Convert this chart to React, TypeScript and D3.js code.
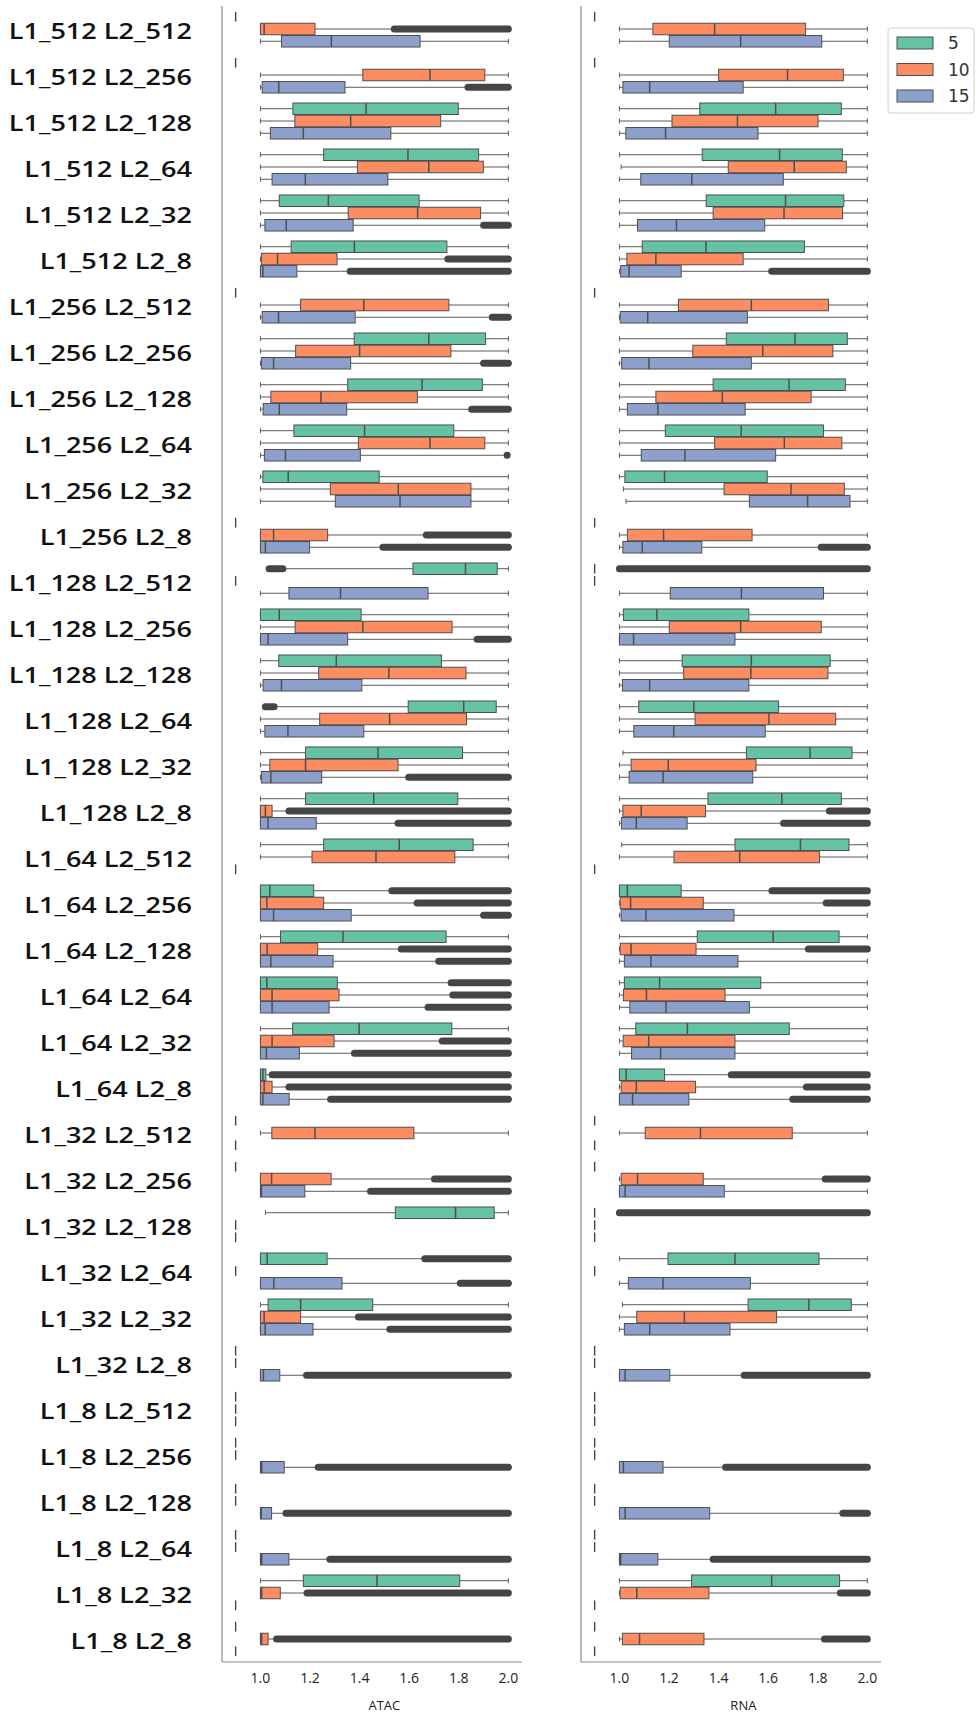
import React from 'react';
import * as d3 from 'd3';

// [whisker low, q1, median, q3, whisker high]; null = group with no spread
type Box = [number, number, number, number, number] | null;
// [row index, hue index, from, to]
type Flier = [number, number, number, number];

const rowLabels = [
  'L1_512 L2_512', 'L1_512 L2_256', 'L1_512 L2_128', 'L1_512 L2_64', 'L1_512 L2_32', 'L1_512 L2_8',
  'L1_256 L2_512', 'L1_256 L2_256', 'L1_256 L2_128', 'L1_256 L2_64', 'L1_256 L2_32', 'L1_256 L2_8',
  'L1_128 L2_512', 'L1_128 L2_256', 'L1_128 L2_128', 'L1_128 L2_64', 'L1_128 L2_32', 'L1_128 L2_8',
  'L1_64 L2_512', 'L1_64 L2_256', 'L1_64 L2_128', 'L1_64 L2_64', 'L1_64 L2_32', 'L1_64 L2_8',
  'L1_32 L2_512', 'L1_32 L2_256', 'L1_32 L2_128', 'L1_32 L2_64', 'L1_32 L2_32', 'L1_32 L2_8',
  'L1_8 L2_512', 'L1_8 L2_256', 'L1_8 L2_128', 'L1_8 L2_64', 'L1_8 L2_32', 'L1_8 L2_8',
];
const hueLevels = ['5', '10', '15'];
const hueColors = ['#66c2a5', '#fc8d62', '#8da0cb'];
const xTicks = [1.0, 1.2, 1.4, 1.6, 1.8, 2.0];
const emptyValue = 0.9;

const atacBoxes: Box[][] = [
  [null, [1.0, 1.0, 1.015, 1.22, 1.54], [1.0, 1.085, 1.286, 1.644, 2.0]],
  [null, [1.0, 1.413, 1.684, 1.905, 2.0], [1.0, 1.007, 1.074, 1.341, 1.837]],
  [[1.0, 1.131, 1.426, 1.798, 2.0], [1.0, 1.139, 1.364, 1.727, 2.0], [1.0, 1.04, 1.173, 1.526, 2.0]],
  [[1.0, 1.255, 1.595, 1.88, 2.0], [1.0, 1.391, 1.679, 1.899, 2.0], [1.0, 1.047, 1.181, 1.514, 2.0]],
  [[1.0, 1.076, 1.274, 1.64, 2.0], [1.0, 1.354, 1.634, 1.888, 2.0], [1.0, 1.018, 1.104, 1.374, 1.9]],
  [[1.0, 1.124, 1.379, 1.752, 2.0], [1.0, 1.004, 1.069, 1.309, 1.756], [1.0, 1.0, 1.01, 1.147, 1.362]],
  [null, [1.0, 1.162, 1.417, 1.76, 2.0], [1.0, 1.007, 1.073, 1.382, 1.935]],
  [[1.0, 1.378, 1.679, 1.908, 2.0], [1.0, 1.142, 1.4, 1.768, 2.0], [1.0, 1.004, 1.053, 1.364, 1.9]],
  [[1.0, 1.352, 1.652, 1.895, 2.0], [1.0, 1.042, 1.244, 1.633, 2.0], [1.0, 1.011, 1.076, 1.348, 1.852]],
  [[1.0, 1.135, 1.42, 1.78, 2.0], [1.0, 1.395, 1.684, 1.905, 2.0], [1.0, 1.016, 1.101, 1.403, 1.99]],
  [[1.0, 1.01, 1.112, 1.479, 2.0], [1.0, 1.282, 1.556, 1.849, 2.0], [1.0, 1.302, 1.563, 1.849, 2.0]],
  [null, [1.0, 1.0, 1.053, 1.271, 1.669], [1.0, 1.0, 1.02, 1.198, 1.494]],
  [[1.1, 1.615, 1.827, 1.955, 2.0], null, [1.0, 1.115, 1.323, 1.676, 2.0]],
  [[1.0, 1.0, 1.076, 1.406, 2.0], [1.0, 1.14, 1.413, 1.773, 2.0], [1.0, 1.0, 1.031, 1.352, 1.874]],
  [[1.0, 1.074, 1.306, 1.73, 2.0], [1.0, 1.235, 1.518, 1.829, 2.0], [1.0, 1.011, 1.085, 1.409, 2.0]],
  [[1.065, 1.596, 1.82, 1.951, 2.0], [1.0, 1.239, 1.521, 1.831, 2.0], [1.0, 1.018, 1.111, 1.417, 2.0]],
  [[1.0, 1.182, 1.474, 1.815, 2.0], [1.0, 1.038, 1.182, 1.555, 2.0], [1.0, 1.004, 1.042, 1.247, 1.598]],
  [[1.0, 1.182, 1.457, 1.796, 2.0], [1.0, 1.0, 1.02, 1.047, 1.115], [1.0, 1.0, 1.031, 1.225, 1.555]],
  [[1.0, 1.255, 1.56, 1.858, 2.0], [1.0, 1.208, 1.466, 1.784, 2.0], null],
  [[1.0, 1.0, 1.038, 1.215, 1.53], [1.0, 1.0, 1.026, 1.255, 1.632], [1.0, 1.0, 1.053, 1.366, 1.9]],
  [[1.0, 1.081, 1.333, 1.749, 2.0], [1.0, 1.0, 1.027, 1.231, 1.568], [1.0, 1.0, 1.042, 1.293, 1.719]],
  [[1.0, 1.0, 1.026, 1.31, 1.769], [1.0, 1.0, 1.047, 1.317, 1.776], [1.0, 1.0, 1.047, 1.277, 1.676]],
  [[1.0, 1.13, 1.398, 1.772, 2.0], [1.0, 1.0, 1.047, 1.297, 1.733], [1.0, 1.0, 1.024, 1.157, 1.379]],
  [[1.0, 1.0, 1.01, 1.022, 1.047], [1.0, 1.0, 1.015, 1.047, 1.115], [1.0, 1.0, 1.01, 1.116, 1.283]],
  [null, [1.0, 1.046, 1.22, 1.619, 2.0], null],
  [null, [1.0, 1.0, 1.045, 1.285, 1.702], [1.0, 1.0, 1.004, 1.179, 1.444]],
  [[1.02, 1.544, 1.787, 1.943, 2.0], null, null],
  [[1.0, 1.0, 1.027, 1.269, 1.663], null, [1.0, 1.0, 1.054, 1.329, 1.806]],
  [[1.0, 1.031, 1.162, 1.453, 2.0], [1.0, 1.0, 1.015, 1.162, 1.395], [1.0, 1.0, 1.019, 1.212, 1.522]],
  [null, null, [1.0, 1.0, 1.012, 1.078, 1.186]],
  [null, null, null],
  [null, null, [1.0, 1.0, 1.005, 1.096, 1.233]],
  [null, null, [1.0, 1.0, 1.003, 1.045, 1.103]],
  [null, null, [1.0, 1.0, 1.005, 1.115, 1.28]],
  [[1.0, 1.173, 1.47, 1.804, 2.0], [1.0, 1.0, 1.005, 1.08, 1.188], null],
  [null, [1.0, 1.0, 1.005, 1.031, 1.065], null],
];

const atacFliers: Flier[] = [
  [0, 1, 1.54, 2.0], [1, 2, 1.837, 2.0], [4, 2, 1.9, 2.0], [5, 1, 1.756, 2.0], [5, 2, 1.362, 2.0],
  [6, 2, 1.935, 2.0], [7, 2, 1.9, 2.0], [8, 2, 1.852, 2.0], [9, 2, 1.995, 1.995], [11, 1, 1.669, 2.0],
  [11, 2, 1.494, 2.0], [12, 0, 1.035, 1.09], [13, 2, 1.874, 2.0], [15, 0, 1.02, 1.055], [16, 2, 1.598, 2.0],
  [17, 1, 1.115, 2.0], [17, 2, 1.555, 2.0], [19, 0, 1.53, 2.0], [19, 1, 1.632, 2.0], [19, 2, 1.9, 2.0],
  [20, 1, 1.568, 2.0], [20, 2, 1.719, 2.0], [21, 0, 1.769, 2.0], [21, 1, 1.776, 2.0], [21, 2, 1.676, 2.0],
  [22, 1, 1.733, 2.0], [22, 2, 1.379, 2.0], [23, 0, 1.047, 2.0], [23, 1, 1.115, 2.0], [23, 2, 1.283, 2.0],
  [25, 1, 1.702, 2.0], [25, 2, 1.444, 2.0], [27, 0, 1.663, 2.0], [27, 2, 1.806, 2.0], [28, 1, 1.395, 2.0],
  [28, 2, 1.522, 2.0], [29, 2, 1.186, 2.0], [31, 2, 1.233, 2.0], [32, 2, 1.103, 2.0], [33, 2, 1.28, 2.0],
  [34, 1, 1.188, 2.0], [35, 1, 1.065, 2.0],
];

const rnaBoxes: Box[][] = [
  [null, [1.0, 1.135, 1.384, 1.751, 2.0], [1.0, 1.201, 1.489, 1.816, 2.0]],
  [null, [1.0, 1.4, 1.678, 1.903, 2.0], [1.0, 1.014, 1.122, 1.499, 2.0]],
  [[1.0, 1.324, 1.63, 1.895, 2.0], [1.0, 1.212, 1.476, 1.801, 2.0], [1.0, 1.026, 1.186, 1.559, 2.0]],
  [[1.0, 1.334, 1.646, 1.899, 2.0], [1.007, 1.439, 1.705, 1.915, 2.0], [1.0, 1.086, 1.292, 1.661, 2.0]],
  [[1.0, 1.35, 1.67, 1.905, 2.0], [1.0, 1.378, 1.664, 1.9, 2.0], [1.0, 1.073, 1.23, 1.586, 2.0]],
  [[1.0, 1.092, 1.349, 1.746, 2.0], [1.0, 1.03, 1.147, 1.499, 2.0], [1.0, 1.005, 1.039, 1.249, 1.614]],
  [null, [1.0, 1.238, 1.532, 1.843, 2.0], [1.0, 1.003, 1.114, 1.516, 2.0]],
  [[1.0, 1.431, 1.708, 1.919, 2.0], [1.0, 1.296, 1.578, 1.861, 2.0], [1.0, 1.009, 1.119, 1.532, 2.0]],
  [[1.0, 1.378, 1.684, 1.911, 2.0], [1.0, 1.147, 1.415, 1.773, 2.0], [1.0, 1.032, 1.155, 1.507, 2.0]],
  [[1.0, 1.185, 1.491, 1.823, 2.0], [1.0, 1.384, 1.665, 1.897, 2.0], [1.0, 1.088, 1.264, 1.63, 2.0]],
  [[1.0, 1.022, 1.182, 1.596, 2.0], [1.016, 1.422, 1.692, 1.907, 2.0], [1.027, 1.524, 1.759, 1.93, 2.0]],
  [null, [1.0, 1.032, 1.178, 1.535, 2.0], [1.0, 1.014, 1.092, 1.332, 1.814]],
  [null, null, [1.0, 1.205, 1.492, 1.823, 2.0]],
  [[1.0, 1.016, 1.151, 1.522, 2.0], [1.0, 1.201, 1.489, 1.814, 2.0], [1.0, 1.0, 1.057, 1.466, 2.0]],
  [[1.0, 1.253, 1.532, 1.85, 2.0], [1.0, 1.259, 1.53, 1.841, 2.0], [1.0, 1.012, 1.122, 1.522, 2.0]],
  [[1.0, 1.078, 1.3, 1.642, 2.0], [1.0, 1.305, 1.603, 1.872, 2.0], [1.0, 1.058, 1.219, 1.588, 2.0]],
  [[1.014, 1.512, 1.769, 1.938, 2.0], [1.0, 1.047, 1.197, 1.551, 2.0], [1.0, 1.039, 1.176, 1.538, 2.0]],
  [[1.0, 1.357, 1.655, 1.895, 2.0], [1.0, 1.014, 1.088, 1.347, 1.847], [1.0, 1.008, 1.068, 1.273, 1.662]],
  [[1.009, 1.466, 1.73, 1.926, 2.0], [1.0, 1.22, 1.485, 1.807, 2.0], null],
  [[1.0, 1.0, 1.032, 1.249, 1.615], [1.0, 1.003, 1.045, 1.338, 1.834], [1.0, 1.007, 1.107, 1.462, 2.0]],
  [[1.0, 1.314, 1.62, 1.886, 2.0], [1.0, 1.003, 1.047, 1.309, 1.762], [1.0, 1.02, 1.127, 1.478, 2.0]],
  [[1.0, 1.02, 1.162, 1.57, 2.0], [1.0, 1.016, 1.109, 1.426, 2.0], [1.0, 1.042, 1.188, 1.524, 2.0]],
  [[1.0, 1.066, 1.274, 1.685, 2.0], [1.0, 1.015, 1.118, 1.466, 2.0], [1.0, 1.049, 1.166, 1.466, 2.0]],
  [[1.0, 1.0, 1.027, 1.182, 1.451], [1.0, 1.007, 1.068, 1.307, 1.754], [1.0, 1.0, 1.053, 1.28, 1.699]],
  [null, [1.0, 1.104, 1.327, 1.697, 2.0], null],
  [null, [1.0, 1.007, 1.073, 1.338, 1.83], [1.0, 1.0, 1.023, 1.423, 2.0]],
  [null, null, null],
  [[1.0, 1.196, 1.466, 1.805, 2.0], null, [1.0, 1.036, 1.176, 1.528, 2.0]],
  [[1.012, 1.519, 1.764, 1.935, 2.0], [1.0, 1.07, 1.262, 1.634, 2.0], [1.0, 1.02, 1.122, 1.446, 2.0]],
  [null, null, [1.0, 1.0, 1.023, 1.203, 1.503]],
  [null, null, null],
  [null, null, [1.0, 1.0, 1.016, 1.176, 1.428]],
  [null, null, [1.0, 1.0, 1.023, 1.364, 1.901]],
  [null, null, [1.0, 1.0, 1.005, 1.155, 1.378]],
  [[1.0, 1.291, 1.614, 1.888, 2.0], [1.0, 1.003, 1.07, 1.361, 1.891], null],
  [null, [1.0, 1.012, 1.081, 1.341, 1.827], null],
];

const rnaFliers: Flier[] = [
  [5, 2, 1.614, 2.0], [11, 2, 1.814, 2.0], [12, 0, 1.0, 2.0], [17, 1, 1.847, 2.0], [17, 2, 1.662, 2.0],
  [19, 0, 1.615, 2.0], [19, 1, 1.834, 2.0], [20, 1, 1.762, 2.0], [23, 0, 1.451, 2.0], [23, 1, 1.754, 2.0],
  [23, 2, 1.699, 2.0], [25, 1, 1.83, 2.0], [26, 0, 1.0, 2.0], [29, 2, 1.503, 2.0], [31, 2, 1.428, 2.0],
  [32, 2, 1.901, 2.0], [33, 2, 1.378, 2.0], [34, 1, 1.891, 2.0], [35, 1, 1.827, 2.0],
];

const W = 976;
const H = 1719;
const plotTop = 6;
const plotBottom = 1662;
const labelFont = '"Open Sans", "DejaVu Sans", sans-serif';

const y = d3.scaleBand<string>().domain(rowLabels).range([plotTop, plotBottom]);
const hueBand = d3.scaleBand<string>().domain(hueLevels)
  .range([y.bandwidth() * 0.1, y.bandwidth() * 0.9]);

const edge = '#4f4f4f';

function Panel({ boxes, fliers, left, title }: { boxes: Box[][]; fliers: Flier[]; left: number; title: string }) {
  const x = d3.scaleLinear().domain([0.845, 2.055]).range([left, left + 300]);
  const bh = hueBand.bandwidth() * 0.94;
  const cy = (r: number, h: number) => (y(rowLabels[r]) as number) + (hueBand(hueLevels[h]) as number) + hueBand.bandwidth() / 2;

  return (
    <g>
      {boxes.map((row, r) => row.map((b, h) => {
        const c = cy(r, h);
        if (!b) {
          return <line key={`e${r}-${h}`} x1={x(emptyValue)} x2={x(emptyValue)} y1={c - bh * 0.42} y2={c + bh * 0.42}
            stroke="#444" strokeWidth={1.4} />;
        }
        const [lo, q1, med, q3, hi] = b;
        return (
          <g key={`b${r}-${h}`}>
            <line x1={x(lo)} x2={x(q1)} y1={c} y2={c} stroke="#5a5a5a" strokeWidth={1} />
            <line x1={x(q3)} x2={x(hi)} y1={c} y2={c} stroke="#5a5a5a" strokeWidth={1} />
            <line x1={x(lo)} x2={x(lo)} y1={c - 2.5} y2={c + 2.5} stroke="#5a5a5a" strokeWidth={1} />
            <line x1={x(hi)} x2={x(hi)} y1={c - 2.5} y2={c + 2.5} stroke="#5a5a5a" strokeWidth={1} />
            <rect x={x(q1)} y={c - bh / 2} width={Math.max(x(q3) - x(q1), 1)} height={bh}
              fill={hueColors[h]} stroke={edge} strokeWidth={1} />
            <line x1={x(med)} x2={x(med)} y1={c - bh / 2} y2={c + bh / 2} stroke={edge} strokeWidth={1.5} />
          </g>
        );
      }))}
      {fliers.map(([r, h, a, b], i) => {
        const c = cy(r, h);
        return <line key={`f${i}`} x1={x(a)} x2={x(b)} y1={c} y2={c} stroke="#454545"
          strokeWidth={7} strokeLinecap="round" />;
      })}
      <line x1={left} x2={left} y1={plotTop} y2={plotBottom} stroke="#8a8a8a" strokeWidth={1.2} />
      <line x1={left} x2={left + 300} y1={plotBottom} y2={plotBottom} stroke="#8a8a8a" strokeWidth={1.2} />
      {xTicks.map(t => (
        <text key={t} x={x(t)} y={plotBottom + 21} textAnchor="middle" fontSize={14}
          fontFamily={labelFont} fill="#222">{d3.format('.1f')(t)}</text>
      ))}
      <text x={x(1.5)} y={plotBottom + 48} textAnchor="middle" fontSize={13} fontFamily={labelFont} fill="#222">{title}</text>
    </g>
  );
}

export default function App() {
  return (
    <svg width={W} height={H} style={{ position: 'absolute', left: 0, top: 0, background: '#fff' }}>
      <rect width={W} height={H} fill="#fff" />
      {rowLabels.map(l => (
        <text key={l} transform={`translate(192,${(y(l) as number) + y.bandwidth() / 2 + 10}) scale(1.26,1)`}
          textAnchor="end" fontSize={21.5} fontWeight={600} fontFamily={labelFont} fill="#111">{l}</text>
      ))}
      <Panel boxes={atacBoxes} fliers={atacFliers} left={222} title="ATAC" />
      <Panel boxes={rnaBoxes} fliers={rnaFliers} left={581} title="RNA" />
      <g>
        <rect x={888} y={28} width={86} height={85} rx={3} fill="#fff" stroke="#d0d0d0" />
        {hueLevels.map((lv, i) => (
          <g key={lv} transform={`translate(897,${43 + i * 26.5})`}>
            <rect x={0} y={-6} width={36} height={12} fill={hueColors[i]} stroke={edge} strokeWidth={1} />
            <text x={51} y={6} fontSize={17} fontFamily='"DejaVu Sans", sans-serif' fill="#333">{lv}</text>
          </g>
        ))}
      </g>
    </svg>
  );
}
